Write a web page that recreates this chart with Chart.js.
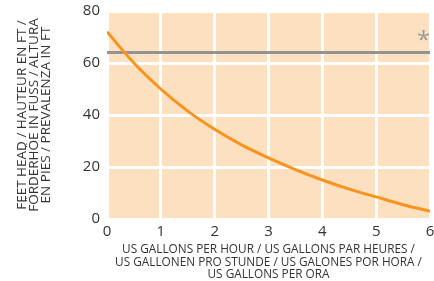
<!DOCTYPE html>
<html>
<head>
<meta charset="utf-8">
<script src="https://cdn.jsdelivr.net/npm/chart.js@4"></script>
<style>
  html, body { margin: 0; padding: 0; background: #fff; }
  #wrap { width: 434px; height: 281px; }
</style>
</head>
<body>
<div id="wrap"><canvas id="pumpChart" width="434" height="281"></canvas></div>
<script>
// flow (US gal/h) vs head (ft)
const flowValues = [0, 0.5, 1, 1.5, 2, 2.5, 3, 3.5, 4, 4.5, 5, 5.5, 6];
const headValues = [72, 60, 50, 41.5, 34.5, 28.5, 23.5, 19, 15, 11.5, 8.5, 5.5, 3];
const limitFlow = [0, 6];
const limitHead = [64, 64];
const xTicks = [0, 1, 2, 3, 4, 5, 6];
const yTicks = [0, 20, 40, 60, 80];

const xTitle = [
    'US GALLONS PER HOUR / US GALLONS PAR HEURES /',
    'US GALLONEN PRO STUNDE / US GALONES POR HORA /',
    'US GALLONS PER ORA'
];
const yTitle = [
    'FEET HEAD / HAUTEUR EN FT /',
    'FÖRDERHÖE IN FUSS / ALTURA',
    'EN PIES / PREVALENZA IN FT'
];

const textColor = '#333333';

const plotBackground = {
    id: 'plotBackground',
    beforeDraw(chart) {
        const { ctx, chartArea } = chart;
        ctx.save();
        ctx.fillStyle = '#fde0c0';
        ctx.fillRect(chartArea.left, chartArea.top, chartArea.right - chartArea.left, chartArea.bottom - chartArea.top);
        ctx.restore();
    }
};

const asteriskMark = {
    id: 'asteriskMark',
    afterDatasetsDraw(chart) {
        const { ctx, scales } = chart;
        const x = scales.x.getPixelForValue(5.88);
        const y = scales.y.getPixelForValue(64);
        ctx.save();
        ctx.fillStyle = '#999999';
        ctx.font = '24px "Open Sans"';
        ctx.textAlign = 'center';
        ctx.textBaseline = 'alphabetic';
        ctx.fillText('*', x, y - 5);
        ctx.restore();
    }
};

const curveData = flowValues.map((f, i) => ({ x: f, y: headValues[i] }));
const limitData = limitFlow.map((f, i) => ({ x: f, y: limitHead[i] }));

new Chart(document.getElementById('pumpChart'), {
    type: 'line',
    data: {
        datasets: [
            {
                label: 'max',
                data: limitData,
                borderColor: '#939393',
                borderWidth: 3,
                pointRadius: 0,
                order: 2
            },
            {
                label: 'curve',
                data: curveData,
                borderColor: '#f7931e',
                borderWidth: 3,
                pointRadius: 0,
                cubicInterpolationMode: 'monotone',
                order: 1
            }
        ]
    },
    options: {
        responsive: false,
        animation: false,
        layout: { padding: { top: 11, right: 4, left: 0, bottom: 0 } },
        plugins: {
            legend: { display: false },
            tooltip: { enabled: false }
        },
        scales: {
            x: {
                type: 'linear',
                min: 0,
                max: 6,
                afterBuildTicks: (scale) => { scale.ticks = xTicks.map(v => ({ value: v })); },
                afterFit: (scale) => {
                    scale.height = 62;
                    scale.paddingLeft = 0;
                    scale.paddingRight = 0;
                },
                grid: { color: '#ffffff', lineWidth: 3, drawTicks: false },
                border: { display: false },
                ticks: {
                    color: textColor,
                    font: { family: 'Open Sans', size: 15 },
                    padding: 4
                },
                title: {
                    display: true,
                    text: xTitle,
                    color: textColor,
                    font: { family: 'Open Sans', size: 11.8, lineHeight: 1.06 },
                    padding: { top: 0, bottom: 0 }
                }
            },
            y: {
                min: 0,
                max: 80,
                afterBuildTicks: (scale) => { scale.ticks = yTicks.map(v => ({ value: v })); },
                afterFit: (scale) => {
                    scale.width = 107;
                    scale.paddingTop = 0;
                    scale.paddingBottom = 0;
                },
                grid: { color: '#ffffff', lineWidth: 3, drawTicks: false },
                border: { display: false },
                ticks: {
                    color: textColor,
                    font: { family: 'Open Sans', size: 15 },
                    padding: 7
                },
                title: {
                    display: true,
                    text: yTitle,
                    color: textColor,
                    font: { family: 'Open Sans', size: 13.5, lineHeight: 0.9 },
                    padding: { top: 16, bottom: 0 }
                }
            }
        }
    },
    plugins: [plotBackground, asteriskMark]
});
</script>
</body>
</html>
